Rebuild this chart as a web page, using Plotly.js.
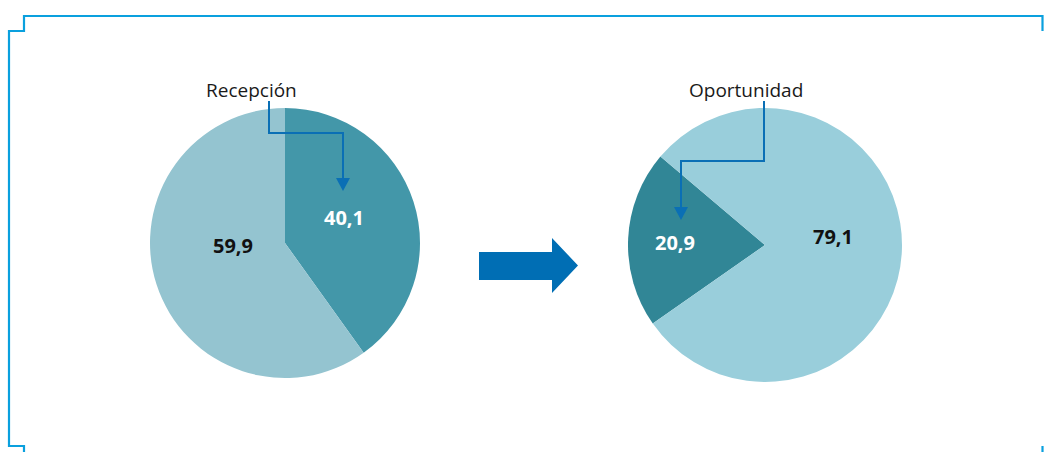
<!DOCTYPE html>
<html>
<head>
<meta charset="utf-8">
<script src="https://cdn.plot.ly/plotly-3.0.1.min.js"></script>
<style>html,body{margin:0;padding:0;background:#fff;}#chart{width:1044px;height:452px;}</style>
</head>
<body>
<div id="chart"></div>
<script>
// Data
const pie1Labels = ["Recepción", "Resto"];
const pie1Values = [40.1, 59.9];
const pie1Colors = ["#4397a9", "#94c4d0"];
const pie2Labels = ["Oportunidad", "Resto"];
const pie2Values = [20.9, 79.1];
const pie2Colors = ["#318696", "#99cedb"];
const calloutTitles = ["Recepción", "Oportunidad"];

const W = 1044, H = 452;
const px = x => x / W;
const py = y => 1 - y / H;
const fmt = v => v.toFixed(1).replace('.', ',');

const traces = [
  {
    type: 'pie', labels: pie1Labels, values: pie1Values, sort: false,
    direction: 'clockwise', rotation: 0,
    marker: {colors: pie1Colors, line: {width: 0}},
    textinfo: 'none', hoverinfo: 'none', showlegend: false,
    domain: {x: [px(150), px(420)], y: [py(378), py(108)]}
  },
  {
    type: 'pie', labels: pie2Labels, values: pie2Values, sort: false,
    direction: 'clockwise', rotation: 235,
    marker: {colors: pie2Colors, line: {width: 0}},
    textinfo: 'none', hoverinfo: 'none', showlegend: false,
    domain: {x: [px(628), px(902)], y: [py(382), py(108)]}
  }
];

const blue = '#0aa0de';
const calloutBlue = '#0a6fb5';
const shapes = [];
const line = (pts, color, width) => {
  let d = 'M' + pts.map(p => px(p[0]) + ',' + py(p[1])).join(' L');
  shapes.push({type: 'path', xref: 'paper', yref: 'paper', path: d,
    line: {color: color, width: width}});
};
const poly = (pts, color) => {
  let d = 'M' + pts.map(p => px(p[0]) + ',' + py(p[1])).join(' L') + ' Z';
  shapes.push({type: 'path', xref: 'paper', yref: 'paper', path: d,
    fillcolor: color, line: {width: 0}});
};
// frame
line([[1042.5, 31], [1042.5, 16], [24, 16], [24, 31], [9, 31], [9, 446], [24, 446], [24, 452]], blue, 2.2);
line([[1042.5, 446], [1042.5, 452]], blue, 2.2);
// callout 1
line([[269, 101], [269, 133], [343, 133], [343, 180]], calloutBlue, 2);
poly([[336, 178], [350, 178], [343, 191]], calloutBlue);
// callout 2
line([[764, 101], [764, 161], [681, 161], [681, 209]], calloutBlue, 2);
poly([[674, 207], [688, 207], [681, 220]], calloutBlue);
// big arrow
poly([[479, 252], [552, 252], [552, 238], [578, 265.5], [552, 293], [552, 280], [479, 280]], '#006eb4');

const ann = (x, y, text, size, color, bold) => ({
  xref: 'paper', yref: 'paper', x: px(x), y: py(y), xanchor: 'center', yanchor: 'middle',
  text: bold ? '<b>' + text + '</b>' : text, showarrow: false,
  font: {family: 'Open Sans, Noto Sans, sans-serif', size: size, color: color}
});

const annotations = [
  ann(251, 90, calloutTitles[0], 19, '#1a1a1a', false),
  ann(746, 90, calloutTitles[1], 19, '#1a1a1a', false),
  ann(344, 217, fmt(pie1Values[0]), 20, '#ffffff', true),
  ann(233, 246, fmt(pie1Values[1]), 20, '#111111', true),
  ann(675, 242, fmt(pie2Values[0]), 20, '#ffffff', true),
  ann(833, 236, fmt(pie2Values[1]), 20, '#111111', true)
];

Plotly.newPlot('chart', traces, {
  width: W, height: H, margin: {l: 0, r: 0, t: 0, b: 0},
  paper_bgcolor: '#ffffff', plot_bgcolor: '#ffffff',
  shapes: shapes, annotations: annotations, showlegend: false
}, {staticPlot: true});
</script>
</body>
</html>
